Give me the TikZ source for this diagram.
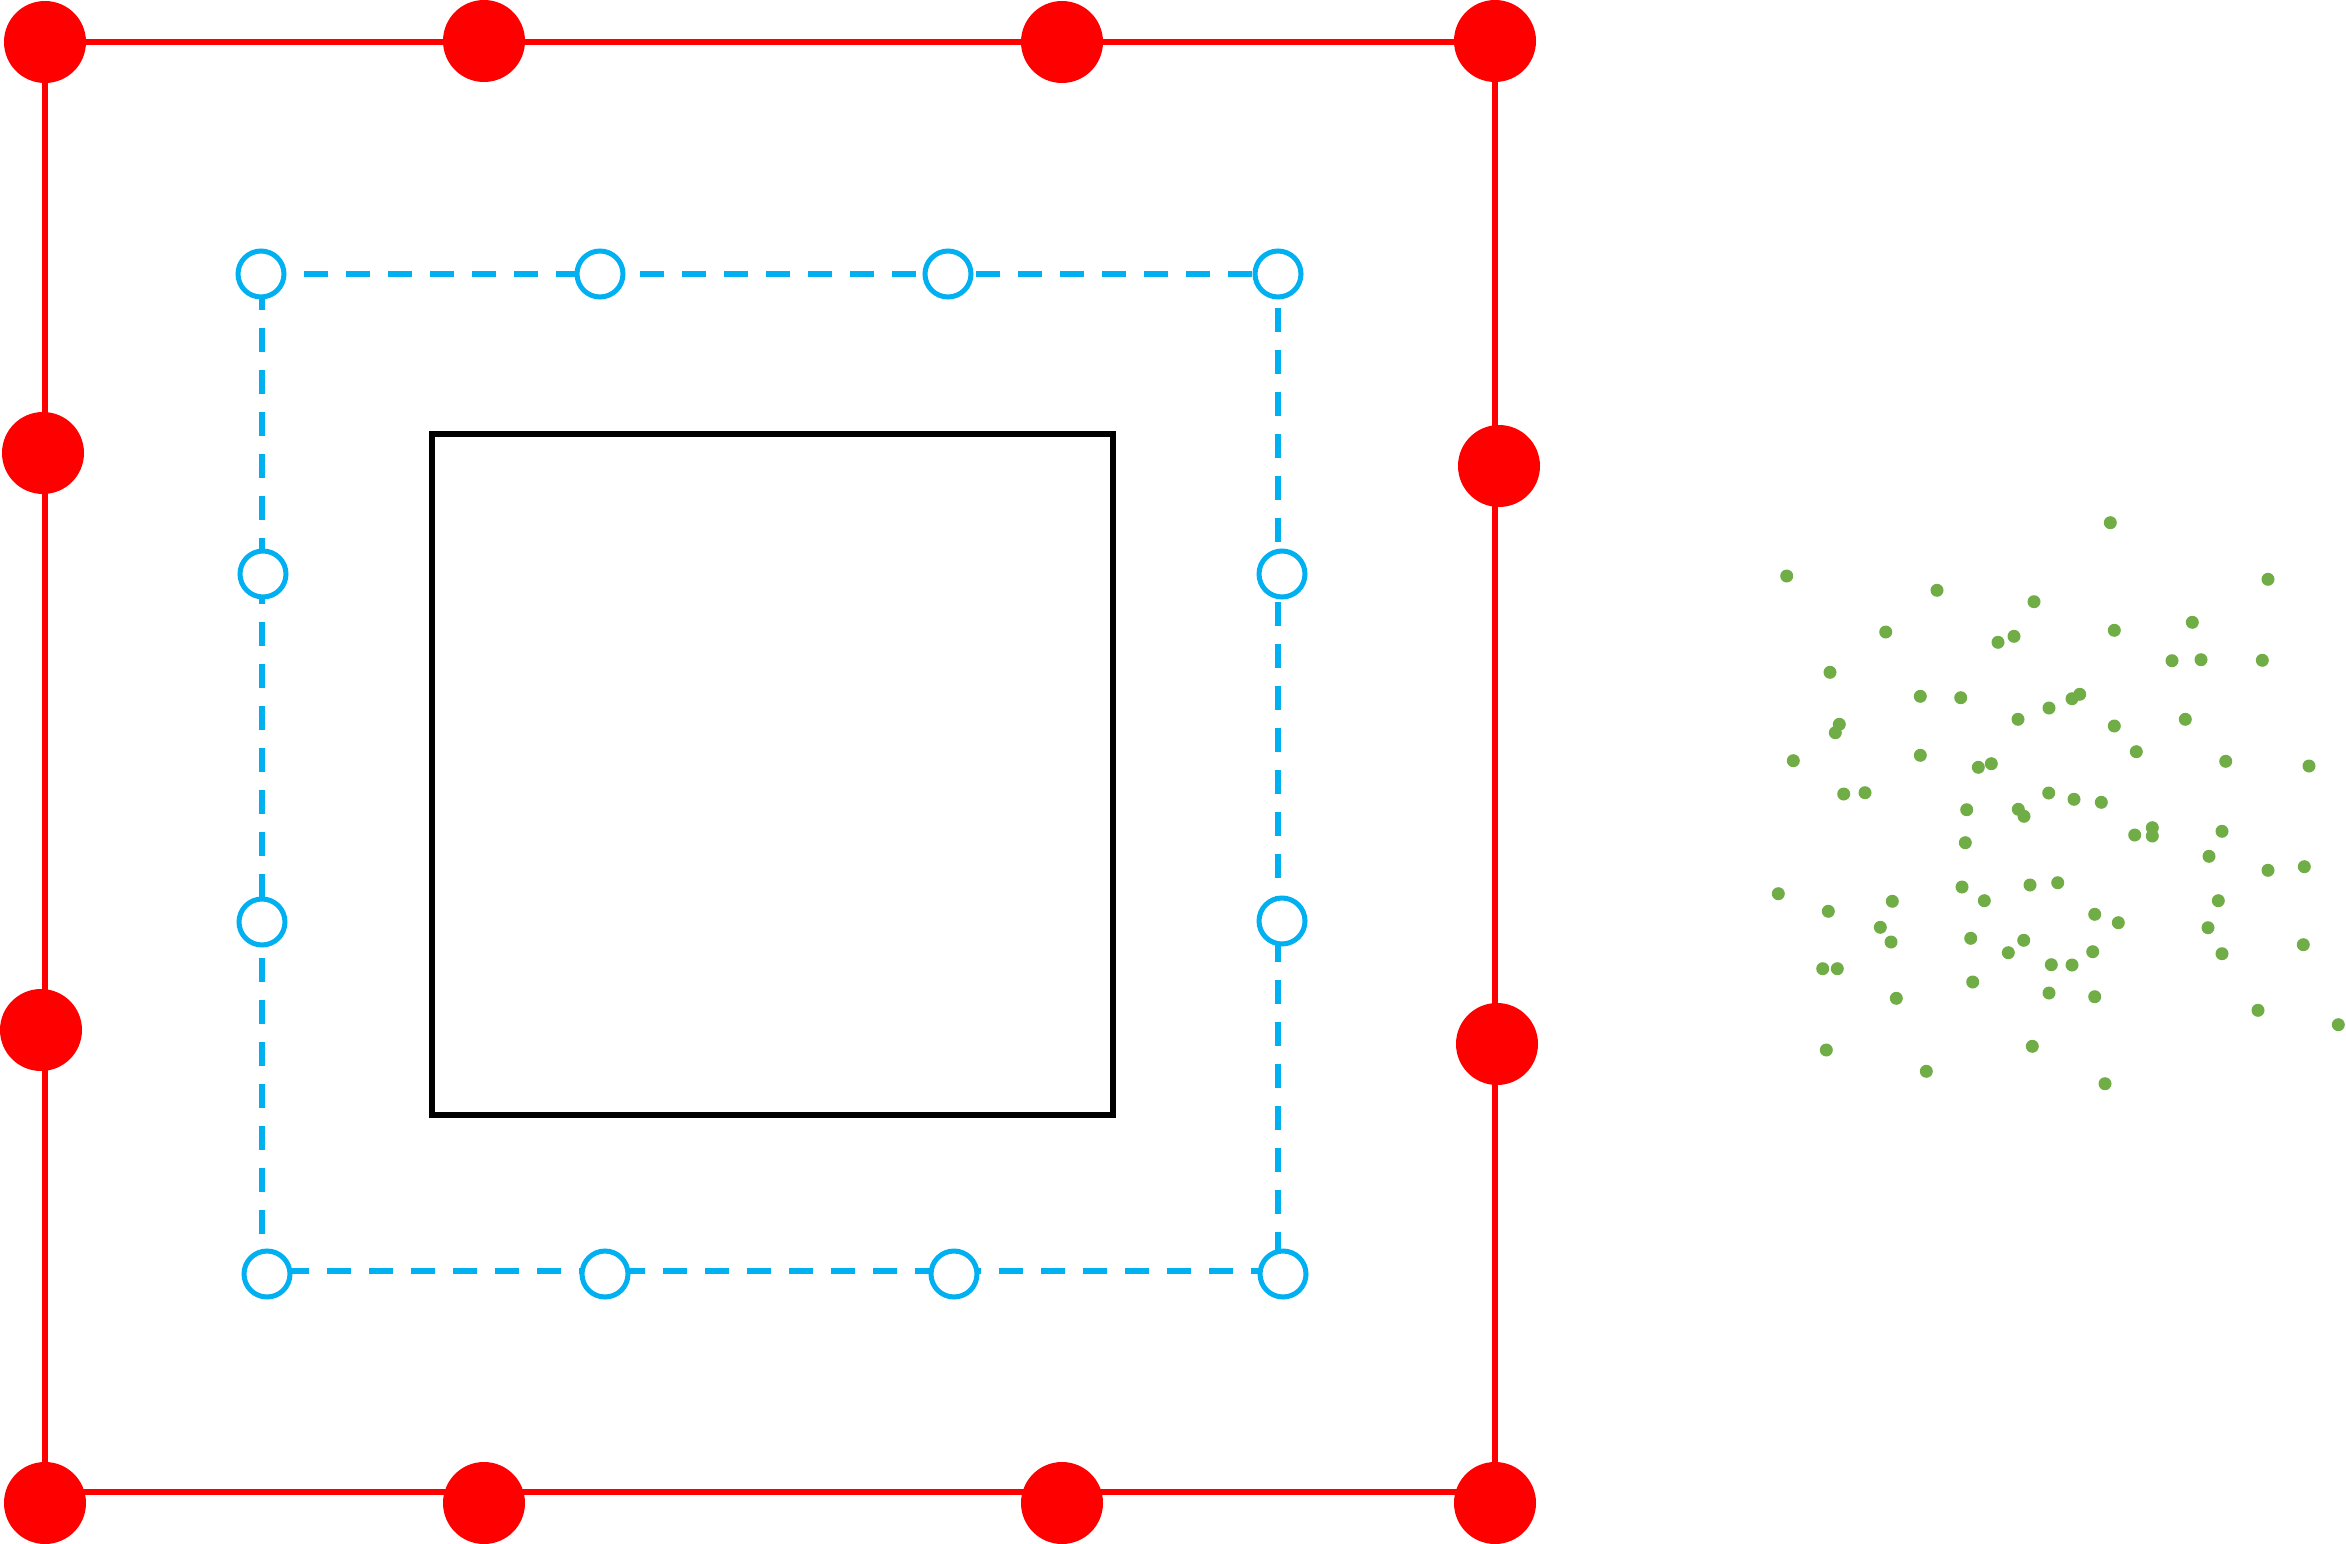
\documentclass[tikz,border=0pt]{standalone}
\definecolor{myred}{HTML}{FF0000}
\definecolor{myblue}{HTML}{00B0F0}
\definecolor{mygreen}{HTML}{70AD47}
\begin{document}
\begin{tikzpicture}[x=1pt,y=-1pt,
 redpt/.style={circle,fill=myred,inner sep=0pt,minimum size=82pt},
 bluept/.style={circle,draw=myblue,line width=5pt,fill=white,inner sep=0pt,minimum size=46pt},
 greenpt/.style={circle,fill=mygreen,inner sep=0pt,minimum size=13pt},
 redline/.style={draw=myred,line width=6pt},
 blueline/.style={draw=myblue,line width=6pt,dash pattern=on 24pt off 18pt},
 blackbox/.style={draw=black,line width=6pt,inner sep=0pt,minimum width=681pt,minimum height=681pt}]
\useasboundingbox (0,0) rectangle (2346,1544);
% red frame
\coordinate (RA) at (45,42);
\coordinate (RB) at (1495,42);
\coordinate (RC) at (1495,1492);
\coordinate (RD) at (45,1492);
\draw[redline] (RA) -- (RB) -- (RC) -- (RD) -- cycle;
% blue dashed frame
\coordinate (BA) at (262,274);
\coordinate (BB) at (1278,274);
\coordinate (BC) at (1278,1271);
\coordinate (BD) at (262,1271);
\draw[blueline] (BA) -- (BB) -- (BC) -- (BD) -- cycle;
% black square
\node[blackbox] (box) at (772.5,774.5) {};
% red points
\node[redpt] (rt1) at (45,42) {};
\node[redpt] (rt2) at (484,41) {};
\node[redpt] (rt3) at (1062,42) {};
\node[redpt] (rt4) at (1495,41) {};
\node[redpt] (rl1) at (43,453) {};
\node[redpt] (rl2) at (41,1030) {};
\node[redpt] (rr1) at (1499,466) {};
\node[redpt] (rr2) at (1497,1044) {};
\node[redpt] (rb1) at (45,1503) {};
\node[redpt] (rb2) at (484,1503) {};
\node[redpt] (rb3) at (1062,1503) {};
\node[redpt] (rb4) at (1495,1503) {};
% blue points
\node[bluept] (bt1) at (261,274) {};
\node[bluept] (bt2) at (600,274) {};
\node[bluept] (bt3) at (948,274) {};
\node[bluept] (bt4) at (1278,274) {};
\node[bluept] (bl1) at (263,574) {};
\node[bluept] (bl2) at (262,922) {};
\node[bluept] (br1) at (1282,574) {};
\node[bluept] (br2) at (1282,921) {};
\node[bluept] (bb1) at (267,1274) {};
\node[bluept] (bb2) at (605,1274) {};
\node[bluept] (bb3) at (954,1274) {};
\node[bluept] (bb4) at (1283,1274) {};
% green scatter
\foreach \px/\py [count=\i] in {
1786.7/576, 1937/590.3, 2034/601.7, 1885.7/632, 1998/642.3, 2014/636.3,
1830/672.3, 1920.3/696.3, 1960.7/697.7, 2049/708, 2018/719.3, 1839.3/724.3,
1835.3/732.7, 1793.3/760.7, 1920.3/755.3, 1978.3/767.3, 1991.3/763.7,
1843.7/794, 1865/792.7, 2048.7/793,
2110.3/522.7, 2268/579.3, 2114.3/630.3, 2192.3/622.3, 2172/660.7, 2201/659.7,
2262.3/660.3, 2072/698.7, 2079.7/694.3, 2114.3/726, 2185.3/719.3, 2136.3/751.7,
2225.7/761.3, 2309/766,
1966.7/809.7, 2018.3/809.3, 2024/816.3, 1965.3/842.7, 1778.3/893.7, 1962/887,
2030/885, 2057.7/882.7, 1828.3/911.3, 1892.3/901.3, 1984.3/900.7, 1880.3/927.3,
1891/942, 1970.7/938.3, 2023.7/940.3, 2008.3/952.7, 1822.7/968.7, 1837.3/968.7,
2051.3/964.7, 1972.7/982, 2049/993, 1896.3/998.3, 1826.3/1050, 2032.3/1046.3,
1926.3/1071.3,
2074/799.3, 2101.3/802.3, 2134.7/835, 2152.3/827.7, 2152.3/836, 2222/831.3,
2209/856.3, 2268/870.3, 2304.3/866.7, 2094.7/914.3, 2118.3/922.7, 2218.3/900.7,
2208/927.7, 2092.7/951.7, 2072/965, 2222/953.7, 2303.3/944.7, 2094.7/996.7,
2258/1010.3, 2338.3/1024.7, 2105/1083.7}
  \node[greenpt] (g\i) at (\px,\py) {};
\end{tikzpicture}
\end{document}
